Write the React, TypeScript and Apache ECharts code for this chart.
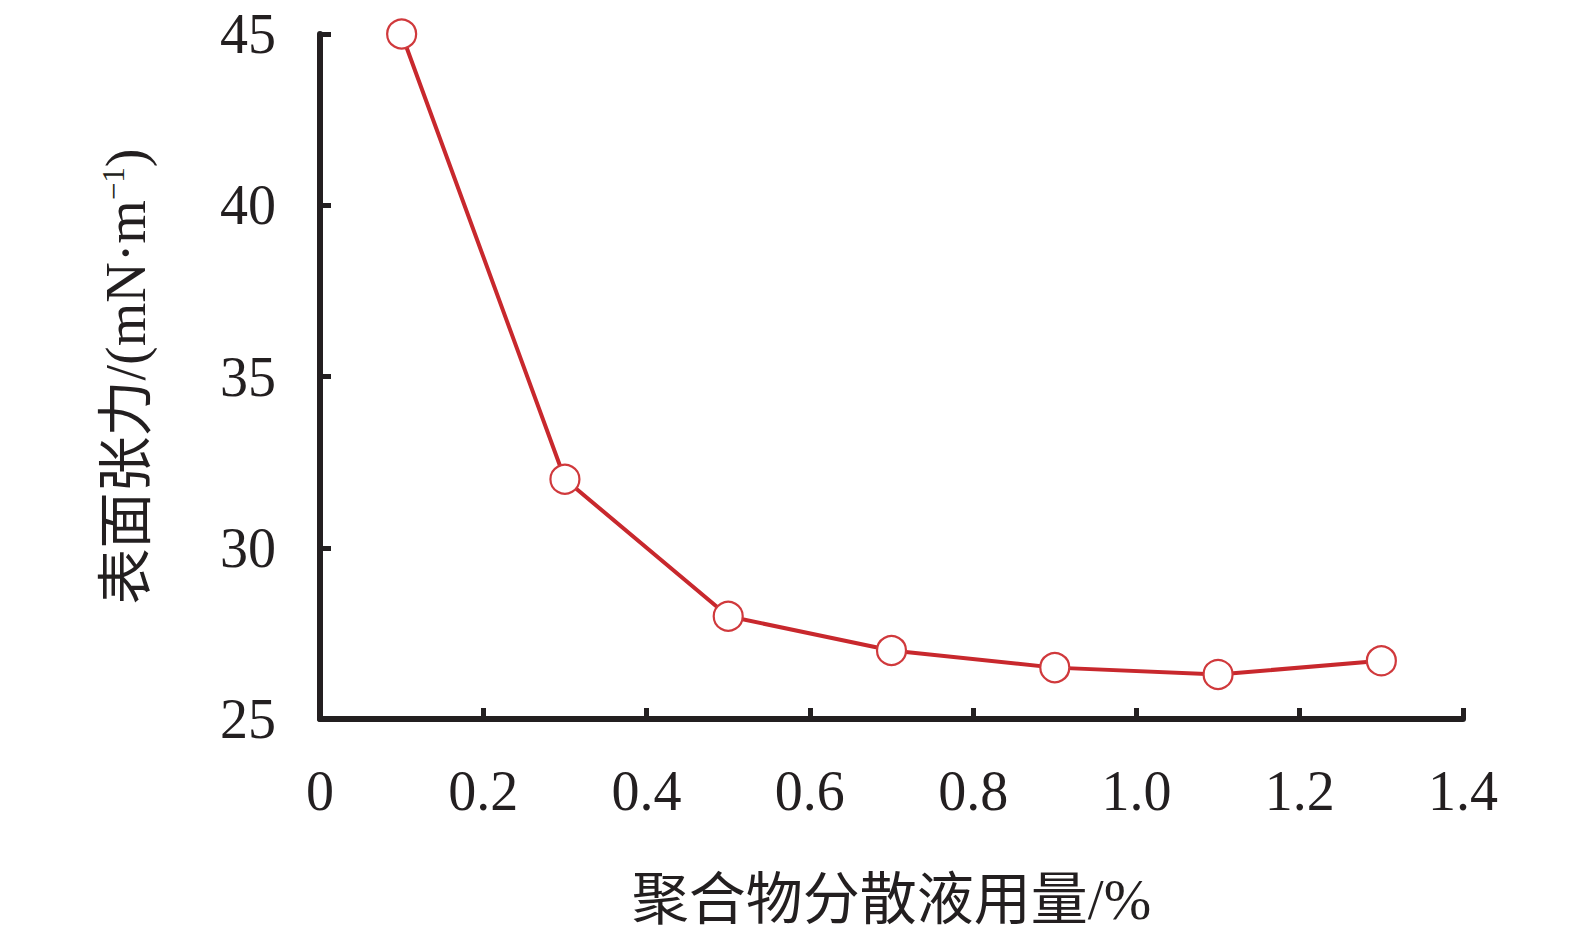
import React, { useEffect, useRef } from "react";
import * as echarts from "echarts";

const dosage = [0.1, 0.3, 0.5, 0.7, 0.9, 1.1, 1.3];
const tension = [45, 32, 28, 27, 26.5, 26.3, 26.7];
const xName = "聚合物分散液用量/%";
const yNameMain = "表面张力/(mN·m";
const yNameSup = "−1";

const FONT = "'Liberation Serif', 'Noto Sans CJK SC', serif";

export default function App() {
  const ref = useRef<HTMLDivElement>(null);
  useEffect(() => {
    if (!ref.current) return;
    const chart = echarts.init(ref.current, undefined, { renderer: "svg" });
    const axisColor = "#231f20";
    chart.setOption({
      animation: false,
      backgroundColor: "#ffffff",
      grid: { left: 320, top: 34, right: 112, bottom: 223, containLabel: false },
      xAxis: {
        type: "value",
        min: 0,
        max: 1.4,
        interval: 0.2,
        name: xName,
        nameLocation: "middle",
        nameGap: 152,
        nameTextStyle: { fontFamily: FONT, fontSize: 57, color: axisColor },
        axisLine: { show: true, onZero: false, lineStyle: { color: axisColor, width: 6 } },
        axisTick: { show: true, inside: true, length: 11, lineStyle: { color: axisColor, width: 5 } },
        axisLabel: {
          margin: 44,
          fontFamily: FONT,
          fontSize: 56,
          color: axisColor,
          formatter: (v: number) => (v === 0 ? "0" : v.toFixed(1)),
        },
        splitLine: { show: false },
      },
      yAxis: {
        type: "value",
        min: 25,
        max: 45,
        interval: 5,
        name: "{a|" + yNameMain + "}{s|" + yNameSup + "}{a|)}",
        nameLocation: "middle",
        nameGap: 166,
        nameRotate: 90,
        nameTextStyle: {
          fontFamily: FONT,
          fontSize: 56,
          color: axisColor,
          rich: {
            a: { fontFamily: FONT, fontSize: 56, color: axisColor },
            s: { fontFamily: FONT, fontSize: 31, color: axisColor, verticalAlign: "top" },
          },
        },
        axisLine: { show: true, onZero: false, lineStyle: { color: axisColor, width: 6 } },
        axisTick: { show: true, inside: true, length: 11, lineStyle: { color: axisColor, width: 5 } },
        axisLabel: { margin: 44, fontFamily: FONT, fontSize: 56, color: axisColor },
        splitLine: { show: false },
      },
      series: [
        {
          type: "line",
          data: dosage.map((x, i) => [x, tension[i]]),
          lineStyle: { color: "#c8282d", width: 4 },
          symbol: "circle",
          symbolSize: 29,
          itemStyle: { color: "#ffffff", borderColor: "#d0393c", borderWidth: 2.2 },
          z: 3,
        },
      ],
    });
    return () => chart.dispose();
  }, []);
  return (
    <div
      ref={ref}
      style={{ position: "fixed", left: 0, top: 0, width: 1575, height: 942, background: "#fff" }}
    />
  );
}
